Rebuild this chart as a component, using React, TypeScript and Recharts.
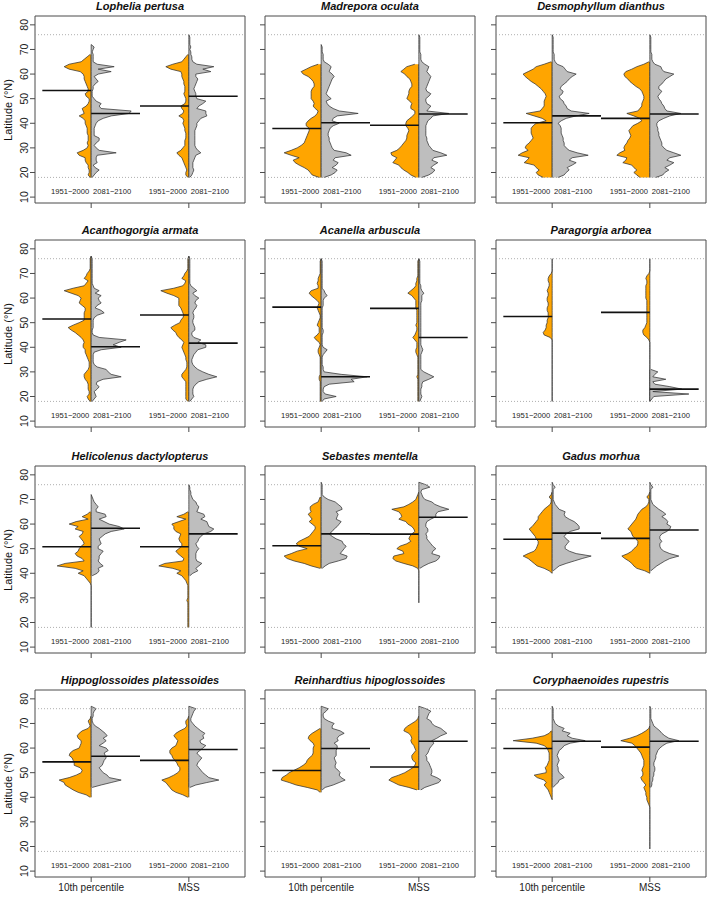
import {
  Area,
  ComposedChart,
  ReferenceArea,
  ReferenceDot,
  ReferenceLine,
  XAxis,
  YAxis,
} from "recharts";

// x groups, the two periods (left / right half of each violin) and axis ticks
const GROUPS = ["10th percentile", "MSS"];
const PERIODS = ["1951−2000", "2081−2100"];
const LAT_TICKS = [10, 20, 30, 40, 50, 60, 70, 80];
const STUDY_LIMITS = [18, 76];

// Density widths at 1° latitude steps, starting at the given latitude.
// Order in each panel: 10th pct past, 10th pct future, MSS past, MSS future.

// Lophelia pertusa
const lopStart = [18, 18, 18, 18];
const lopP10Past = [1,3,2,2,3,3,5,6,6,12, 14,8,4,3,4,3,3,3,4,4, 4,5,6,6,8,12,7,8,9,5, 3,2,2,5,6,3,3,4,5,6, 7,7,8,11,22,27,22,10,7,4, 1];
const lopP10Fut = [1,3,5,8,4,2,6,5,5,6, 25,8,5,3,5,8,8,3,3,3, 3,4,5,7,12,20,38,40,10,8, 10,5,3,1,1,1,2,2,4,7, 5,3,7,20,7,23,6,2,2,2, 2,1,2,3,0];
const lopMssPast = [1,3,3,2,3,4,5,6,7,10, 12,8,6,4,4,4,3,3,3,4, 4,5,6,5,6,10,6,5,7,8, 4,3,3,4,5,4,4,4,5,5, 6,7,7,8,18,23,16,7,5,3, 1];
const lopMssFut = [1,3,4,5,4,4,4,5,6,7, 12,9,7,6,6,6,6,6,6,6, 7,8,8,10,12,18,17,17,8,10, 14,17,8,7,7,6,5,6,7,8, 9,7,7,22,14,25,8,4,3,3, 2,2,1,2,1,1,1,1,0];
const lopMed = [53.3, 44.0, 47.0, 51.0];

// Madrepora oculata
const madStart = [18, 18, 18, 18];
const madP10Past = [2,9,11,13,17,22,26,28,22,30, 37,30,24,20,17,16,15,14,13,12, 12,15,15,13,10,6,4,3,6,8, 7,8,10,10,10,10,9,7,7,8, 10,13,18,20,15,10,3];
const madP10Fut = [3,10,14,16,11,15,17,12,14,30, 25,13,11,10,9,8,8,7,7,8, 9,12,18,11,12,16,37,18,12,8, 6,5,10,7,5,6,7,8,9,10, 11,13,11,8,9,10,7,3,2,2, 2,1,1,1,0];
const madMssPast = [3,8,11,15,18,20,26,24,22,27, 28,22,19,17,15,13,12,12,11,10, 11,13,13,12,9,6,4,4,8,8, 7,9,12,11,10,10,9,7,7,8, 9,12,14,18,15,12,4];
const madMssFut = [3,10,14,16,12,15,19,13,15,28, 22,14,12,10,9,8,8,7,7,7, 7,7,8,9,12,14,30,8,10,12, 8,7,7,10,12,8,7,8,9,10, 11,12,10,8,9,10,6,3,2,2, 2,1,1,1,1,1,1,1,0];
const madMed = [37.9, 40.2, 39.2, 43.8];

// Desmophyllum dianthus
const desStart = [18, 18, 18, 18];
const desP10Past = [9,14,16,13,16,18,28,25,23,34, 30,24,27,26,23,21,19,20,21,21, 21,19,16,6,10,18,26,12,10,8, 8,8,7,6,7,9,11,14,17,21, 24,27,29,24,19,16,8,1];
const desP10Fut = [6,12,14,17,15,20,24,17,20,36, 25,17,14,12,12,11,11,10,9,9, 9,8,6,9,14,24,37,19,15,14, 12,11,8,7,10,11,8,9,12,15, 17,20,24,15,13,11,5,3,2,2, 2,1,1,1,1,1,1,1,0];
const desMssPast = [10,13,16,13,16,18,27,24,23,33, 30,25,26,25,23,22,20,19,20,21, 19,17,12,8,10,16,23,12,10,8, 8,7,6,6,7,8,10,14,17,20, 22,25,26,24,18,13,6,1];
const desMssFut = [6,13,15,19,15,20,24,17,20,31, 24,17,14,12,12,11,10,9,9,8, 8,7,7,9,14,20,31,17,15,14, 12,11,9,8,10,12,9,9,12,14, 16,20,24,14,12,11,5,3,2,2, 2,1,1,1,1,1,1,1,0];
const desMed = [40.2, 43.0, 42.0, 43.8];

// Acanthogorgia armata
const acaStart = [18, 18, 18, 18];
const acaP10Past = [1,3,4,2,2,3,3,3,4,6, 7,7,5,3,2,2,2,3,4,5, 6,6,8,8,7,8,10,13,16,20, 23,18,12,7,7,7,7,6,6,9, 12,11,10,13,20,27,18,7,5,3, 7,5,4,2,1,1,1,1,1,0];
const acaP10Fut = [1,3,5,4,3,6,8,5,6,12, 30,20,17,15,6,3,2,2,2,2, 3,10,30,22,28,35,8,2,1,1, 2,2,2,2,3,6,13,10,4,6, 10,8,7,10,4,8,3,2,1,1, 1,1,1,1,1,1,1,1,1,0];
const acaMssPast = [1,3,3,3,3,3,3,3,3,5, 7,7,5,3,2,2,2,3,3,4, 5,6,7,6,5,7,10,12,13,16, 18,14,9,8,6,5,6,7,8,10, 10,10,10,15,22,28,15,6,4,3, 7,5,4,2,1,1,1,1,1,0];
const acaMssFut = [1,3,5,4,4,4,5,7,10,18, 28,20,14,9,6,4,3,3,4,5, 7,9,17,17,9,12,5,3,3,6, 6,5,4,4,5,5,4,5,7,8, 6,7,10,6,4,8,5,2,1,1, 1,1,1,1,1,1,1,1,1,0];
const acaMed = [51.5, 40.2, 53.1, 41.7];

// Acanella arbuscula
const acnStart = [18, 18, 18, 18];
const acnP10Past = [1,1,1,1,1,1,1,1,1,2, 2,1,1,1,1,1,1,1,1,2, 3,3,2,1,2,5,7,4,2,2, 2,4,3,2,1,1,2,3,4,3, 2,4,7,10,12,10,3,3,4,3, 3,2,1,1,1,1,1,1,0];
const acnP10Fut = [1,3,15,4,2,2,3,8,33,30, 46,20,3,2,2,1,1,1,1,2, 4,6,2,1,1,1,1,1,2,2, 1,1,1,1,1,1,1,1,1,2, 2,2,3,6,4,3,1,1,1,1, 1,1,1,1,1,1,1,1,0];
const acnMssPast = [1,1,1,1,1,1,1,1,1,1, 2,1,1,1,1,1,1,1,1,2, 3,3,2,2,2,4,6,4,3,2, 2,3,2,2,2,2,2,2,3,3, 3,3,5,7,11,8,5,3,3,2, 2,1,1,1,1,1,1,1,0];
const acnMssFut = [1,2,3,2,2,2,3,3,4,10, 15,10,5,2,2,2,2,2,2,2, 3,4,3,2,2,2,2,2,2,2, 2,2,2,2,2,2,2,2,2,2, 2,3,3,3,5,3,2,2,1,1, 1,1,1,1,1,1,1,1,0];
const acnMed = [56.3, 28.0, 55.8, 44.0];

// Paragorgia arborea
const parStart = [18, 18, 18, 18];
const parP10Past = [0,0,0,0,0,0,0,0,0,0, 0,0,0,0,0,0,0,0,0,0, 0,0,0,0,0,0, 2,8,9,7,6,6,5,5,4,4, 4,5,5,4,4,5,5,4,4,5, 4,3,3,4,4,3,1, 0,0,0,0,0,0];
const parP10Fut: number[] = [];
const parMssPast = [0,0,0,0,0,0,0,0,0,0, 0,0,0,0,0,0,0,0,0,0, 0,0,0,0,0, 1,3,6,7,7,5,4,3,3,3, 3,3,3,3,3,3,3,4,4,4, 4,4,4,3,3,4,3,1, 0,0,0,0,0,0];
const parMssFut = [0,2,4,39,3,32,20,5,3,16, 3,5,8,1];
const parMed = [52.5, null, 54.2, 23.0];

// Helicolenus dactylopterus
const helStart = [18, 39, 18, 39];
const helP10Past = [0,0,0,0,0,0,0,0,0,0, 0,0,0,0,0,0,0,0, 1,3,5,7,13,8,16,34,26,7, 9,14,16,13,12,10,7,8,10,12, 9,8,16,13,22,15,3,9,4,1];
const helP10Fut = [1,6,8,7,12,9,7,8,8,10, 12,7,7,10,9,8,11,14,20,33, 28,18,13,8,15,14,5,5,7,5, 3,2,1,0];
const helMssPast = [1,1,1,1,1,1,1,1,1,1, 1,2,1,1,1,1,1,1, 2,3,5,7,12,8,16,30,24,6, 5,8,11,13,10,7,7,9,10,9, 8,13,15,15,17,10,3,12,5,1];
const helMssFut = [1,4,9,7,10,13,8,7,7,7, 8,10,8,7,9,10,12,15,22,25, 20,19,18,12,16,15,8,9,10,8, 7,4,3,2,2,1,1,0];
const helMed = [50.8, 58.3, 50.8, 56.0];

// Sebastes mentella
const sebStart = [42, 42, 28, 42];
const sebP10Past = [1,10,17,27,34,37,30,24,14,22, 25,22,17,12,10,8,6,6,9,12, 9,11,13,10,11,11,8,3,2,1];
const sebP10Fut = [1,4,8,17,25,26,19,21,23,25, 22,21,15,11,8,11,13,16,18,20, 15,16,17,15,21,20,17,14,7,3, 1,1,1,1,1,0];
const sebMssPast = [0,0,0,0,0,0,0,0,0,0, 0,0,0,0, 1,6,15,23,26,25,15,16,22,19, 12,8,10,9,7,4,5,7,11,13, 20,17,18,20,27,15,10,6,3,2, 1,0];
const sebMssFut = [1,5,10,17,20,21,13,14,17,14, 12,10,8,8,7,9,9,7,7,8, 12,17,17,19,30,22,16,13,6,4, 3,2,3,11,7,0];
const sebMed = [51.2, 56.0, 55.9, 62.8];

// Gadus morhua
const gadStart = [40, 41, 40, 41];
const gadP10Past = [0,3,8,15,18,21,24,29,24,18, 16,15,14,14,16,17,19,21,23,20, 18,16,14,14,12,10,8,5,2,1, 1,3,1,0];
const gadP10Fut = [1,4,7,14,22,30,39,24,17,13, 13,15,17,14,12,14,18,27,27,25, 22,17,13,12,13,7,5,3,2,1, 1,1,1,1,3,1,0];
const gadMssPast = [0,5,13,16,18,21,25,28,22,18, 16,13,12,12,14,17,18,19,22,20, 18,16,14,13,12,10,8,4,2,1, 1,3,1,0];
const gadMssFut = [1,4,7,11,15,20,29,20,14,11, 10,10,12,10,10,12,17,20,21,17, 18,16,12,16,13,9,6,3,2,1, 1,1,1,1,3,1,0];
const gadMed = [53.8, 56.3, 54.2, 57.6];

// Hippoglossoides platessoides
const hipStart = [40, 44, 40, 44];
const hipP10Past = [1,5,13,18,22,26,27,32,22,15, 10,9,11,17,17,18,19,22,21,18, 12,11,10,10,13,14,12,9,3,1, 2,3,1,0];
const hipP10Fut = [1,10,20,30,18,16,12,10,8,11, 12,13,15,14,13,17,15,8,12,15, 12,16,14,11,8,4,2,1,1,2, 2,3,5,0];
const hipMssPast = [1,6,13,17,19,21,23,27,20,15, 11,9,9,11,12,14,16,17,19,19, 17,13,12,11,13,15,13,9,4,2, 3,3,1,0];
const hipMssFut = [1,7,18,30,20,17,14,12,10,8, 9,11,13,10,8,11,14,17,12,11, 15,14,16,12,9,6,4,2,2,3, 4,5,7,0];
const hipMed = [54.4, 56.7, 55.0, 59.4];

// Reinhardtius hipoglossoides
const reiStart = [42, 43, 43, 43];
const reiP10Past = [1,4,14,25,32,40,39,35,32,27, 22,18,15,14,12,9,8,8,8,7, 8,11,13,12,9,5,1];
const reiP10Fut = [1,4,12,18,24,20,18,19,17,14, 14,15,14,13,15,15,15,16,16,13, 17,16,18,23,19,11,11,13,7,3, 2,2,5,7,0];
const reiMssPast = [2,10,20,25,30,27,20,14,10,6, 4,3,6,7,7,5,3,4,5,7, 8,7,8,10,15,14,11,7,3,1, 0];
const reiMssFut = [2,6,13,20,22,18,12,13,13,12, 11,10,8,8,7,9,10,11,13,15, 13,18,22,28,25,22,16,13,12,8, 9,10,12,7,0];
const reiMed = [50.9, 59.8, 52.3, 62.8];

// Coryphaenoides rupestris
const corStart = [39, 44, 19, 44];
const corP10Past = [0,1,2,3,4,6,8,6,8,15, 18,6,6,7,5,4,3,3,3,3, 4,5,8,16,39,20,8,3,1];
const corP10Fut = [1,3,6,7,12,10,7,6,6,5, 6,7,6,5,6,7,10,12,18,33, 20,15,18,10,12,6,3,2,1,1, 1,1,1,0];
const corMssPast = [0,0,0,0,0,0,0,0,0,0, 0,0,0,0,0,0,0,0, 1,2,3,3,4,4,5,6,4,6, 8,9,7,7,8,7,6,6,6,7, 8,9,11,13,15,18,29,20,13,8, 4,1,0];
const corMssFut = [1,2,2,3,3,4,4,5,5,4, 4,5,6,6,7,8,10,13,17,29, 19,15,12,10,7,4,3,2,1,1, 1,1,1,0];
const corMed = [59.8, 62.8, 60.4, 62.8];

const PANELS = [
  { title: "Lophelia pertusa", start: lopStart, prof: [lopP10Past, lopP10Fut, lopMssPast, lopMssFut], med: lopMed },
  { title: "Madrepora oculata", start: madStart, prof: [madP10Past, madP10Fut, madMssPast, madMssFut], med: madMed },
  { title: "Desmophyllum dianthus", start: desStart, prof: [desP10Past, desP10Fut, desMssPast, desMssFut], med: desMed },
  { title: "Acanthogorgia armata", start: acaStart, prof: [acaP10Past, acaP10Fut, acaMssPast, acaMssFut], med: acaMed },
  { title: "Acanella arbuscula", start: acnStart, prof: [acnP10Past, acnP10Fut, acnMssPast, acnMssFut], med: acnMed },
  { title: "Paragorgia arborea", start: parStart, prof: [parP10Past, parP10Fut, parMssPast, parMssFut], med: parMed },
  { title: "Helicolenus dactylopterus", start: helStart, prof: [helP10Past, helP10Fut, helMssPast, helMssFut], med: helMed },
  { title: "Sebastes mentella", start: sebStart, prof: [sebP10Past, sebP10Fut, sebMssPast, sebMssFut], med: sebMed },
  { title: "Gadus morhua", start: gadStart, prof: [gadP10Past, gadP10Fut, gadMssPast, gadMssFut], med: gadMed },
  { title: "Hippoglossoides platessoides", start: hipStart, prof: [hipP10Past, hipP10Fut, hipMssPast, hipMssFut], med: hipMed },
  { title: "Reinhardtius hipoglossoides", start: reiStart, prof: [reiP10Past, reiP10Fut, reiMssPast, reiMssFut], med: reiMed },
  { title: "Coryphaenoides rupestris", start: corStart, prof: [corP10Past, corP10Fut, corMssPast, corMssFut], med: corMed },
];

const FONT = '"Liberation Sans", Arial, Helvetica, sans-serif';
const PAST_FILL = "#FFA500";
const FUTURE_FILL = "#BEBEBE";
const OUTLINE = "#333333";
const FRAME = "#4a4a4a";

const FRAME_W = 210;
const FRAME_H = 187;
const AXIS_W = 35;
const TOP_M = 16;
const XAXIS_H = 22;
const RIGHT_M = 2;
const CHART_W = AXIS_W + FRAME_W + RIGHT_M;
const CHART_H = TOP_M + FRAME_H + XAXIS_H;
const X_DOMAIN: [number, number] = [0.425, 2.575];
const Y_DOMAIN: [number, number] = [7.6, 83.6];
// density widths were read in pixels of the original figure
const WIDTH_SCALE = (X_DOMAIN[1] - X_DOMAIN[0]) / FRAME_W;
const LABEL_LAT = 12.5;
const LABEL_OFFSET = 0.215;

const COL_X = [0, 230, 461];
const ROW_Y = [0, 224, 450, 674];

function halfViolin(start: number, widths: number[], center: number, side: number) {
  return widths.map((w, i) => ({
    lat: start + i,
    x: side < 0 ? [center - w * WIDTH_SCALE, center] : [center, center + w * WIDTH_SCALE],
  }));
}

function LatTick(props: any) {
  const { x, y, payload, show } = props;
  if (!show) return <g />;
  return (
    <text
      x={x}
      y={y}
      transform={`rotate(-90 ${x} ${y})`}
      textAnchor="middle"
      fontSize={10.5}
      fill="#222"
    >
      {payload.value}
    </text>
  );
}

function Panel({ panel, col, row }: { panel: (typeof PANELS)[number]; col: number; row: number }) {
  const showY = col === 0;
  const showX = row === 3;

  return (
    <ComposedChart
      layout="vertical"
      width={CHART_W}
      height={CHART_H}
      margin={{ top: TOP_M, right: RIGHT_M, bottom: 0, left: 0 }}
    >
      <XAxis
        type="number"
        domain={X_DOMAIN}
        ticks={[1, 2]}
        interval={0}
        allowDataOverflow
        axisLine={false}
        tickSize={5}
        height={XAXIS_H}
        tickLine={{ stroke: FRAME }}
        tick={{ fontSize: 10, fill: "#222" }}
        tickFormatter={(v: number) => (showX ? GROUPS[v - 1] : "")}
      />
      <YAxis
        type="number"
        dataKey="lat"
        domain={Y_DOMAIN}
        reversed
        ticks={LAT_TICKS}
        interval={0}
        allowDataOverflow
        width={AXIS_W}
        axisLine={false}
        tickSize={5}
        tickLine={{ stroke: FRAME }}
        tick={(p: any) => <LatTick {...p} show={showY} />}
      />
      {STUDY_LIMITS.map((lat) => (
        <ReferenceLine
          key={"lim" + lat}
          y={lat}
          stroke="#9a9a9a"
          strokeWidth={0.8}
          strokeDasharray="1 2"
        />
      ))}
      {panel.prof.map((widths, k) => {
        if (!widths.length) return null;
        const center = Math.floor(k / 2) + 1;
        const side = k % 2 === 0 ? -1 : 1;
        return (
          <Area
            key={"v" + k}
            data={halfViolin(panel.start[k], widths, center, side)}
            dataKey="x"
            type="linear"
            fill={side < 0 ? PAST_FILL : FUTURE_FILL}
            fillOpacity={1}
            stroke={OUTLINE}
            strokeWidth={0.75}
            dot={false}
            activeDot={false}
            isAnimationActive={false}
          />
        );
      })}
      {panel.med.map((m, k) => {
        if (m == null) return null;
        const center = Math.floor(k / 2) + 1;
        const side = k % 2 === 0 ? -1 : 1;
        return (
          <ReferenceLine
            key={"m" + k}
            segment={[
              { x: center + side * 0.5, y: m },
              { x: center, y: m },
            ]}
            stroke="#111"
            strokeWidth={1.6}
          />
        );
      })}
      {[1, 2].flatMap((center) =>
        PERIODS.map((label, j) => (
          <ReferenceDot
            key={"p" + center + j}
            x={center + (j === 0 ? -LABEL_OFFSET : LABEL_OFFSET)}
            y={LABEL_LAT}
            r={0}
            fill="none"
            stroke="none"
            label={{ value: label, position: "center", fontSize: 7.6, fill: "#222" }}
          />
        ))
      )}
      <ReferenceArea
        x1={X_DOMAIN[0]}
        x2={X_DOMAIN[1]}
        y1={Y_DOMAIN[0]}
        y2={Y_DOMAIN[1]}
        fill="none"
        fillOpacity={0}
        stroke={FRAME}
        strokeWidth={1}
      />
    </ComposedChart>
  );
}

export default function App() {
  return (
    <div
      style={{
        position: "absolute",
        left: 0,
        top: 0,
        width: 709,
        height: 897,
        overflow: "hidden",
        background: "#fff",
        fontFamily: FONT,
        color: "#111",
      }}
    >
      {PANELS.map((panel, i) => {
        const col = i % 3;
        const row = Math.floor(i / 3);
        return (
          <div
            key={panel.title}
            style={{ position: "absolute", left: COL_X[col], top: ROW_Y[row], width: CHART_W, height: CHART_H }}
          >
            <Panel panel={panel} col={col} row={row} />
            <div
              style={{
                position: "absolute",
                left: AXIS_W,
                top: -1,
                width: FRAME_W,
                height: 14,
                lineHeight: "14px",
                textAlign: "center",
                fontSize: 11,
                fontWeight: "bold",
                fontStyle: "italic",
              }}
            >
              {panel.title}
            </div>
            {col === 0 && (
              <div
                style={{
                  position: "absolute",
                  left: 8,
                  top: TOP_M + FRAME_H / 2,
                  transform: "translate(-50%, -50%) rotate(-90deg)",
                  whiteSpace: "nowrap",
                  fontSize: 11,
                }}
              >
                Latitude (°N)
              </div>
            )}
          </div>
        );
      })}
    </div>
  );
}
